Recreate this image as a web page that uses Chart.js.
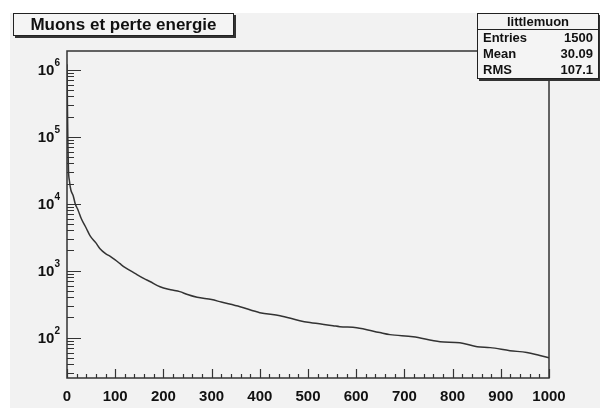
<!DOCTYPE html>
<html>
<head>
<meta charset="utf-8">
<script src="https://cdn.jsdelivr.net/npm/chart.js@4"></script>
<style>
    body { margin: 0; background: #fff; font-family: "Liberation Sans", Arial, sans-serif; }
    #wrap { position: relative; width: 600px; height: 408px; }
    #bg { position: absolute; left: 10px; top: 13px; right: 0; bottom: 0; background: #f2f2f2; }
    canvas { position: absolute; left: 0; top: 0; }
    .title {
        position: absolute; left: 13px; top: 13px; width: 219px; height: 21px;
        border: 1px solid #222; box-shadow: 2px 2px 0 #333; background: #f4f4f4;
        font-weight: bold; font-size: 17px; line-height: 21px; text-align: center; color: #111;
    }
    .stats {
        position: absolute; left: 477px; top: 13px; width: 120px; height: 64px;
        border: 1px solid #222; box-shadow: 2px 2px 0 #333; background: #f4f4f4;
        font-weight: bold; font-size: 13px; color: #111;
    }
    .stats .head { height: 15px; line-height: 16px; text-align: center; border-bottom: 1px solid #222; font-size: 13px; }
    .stats .row { display: flex; justify-content: space-between; padding: 0 5px 0 5px; height: 16px; line-height: 16px; }
</style>
</head>
<body>
<div id="wrap">
    <div id="bg"></div>
    <canvas id="histo" width="600" height="408"></canvas>
    <div class="title">Muons et perte energie</div>
    <div class="stats">
        <div class="head">littlemuon</div>
        <div class="row"><span>Entries</span><span>1500</span></div>
        <div class="row"><span>Mean</span><span>30.09</span></div>
        <div class="row"><span>RMS</span><span>107.1</span></div>
    </div>
</div>
<script>
const binX = [0, 1, 2, 3, 5, 8, 13, 17, 23, 30, 40, 48, 60, 68, 80, 89, 100, 110, 120, 140, 160, 172, 193, 215, 234, 250, 270, 300, 320, 359, 400, 442, 483, 504, 552, 566, 601, 649, 670, 718, 774, 815, 851, 878, 919, 954, 981, 1000];
const counts = [1200000, 250000, 70000, 32000, 22000, 16000, 13000, 10000, 8000, 5900, 4300, 3300, 2600, 2150, 1800, 1650, 1450, 1270, 1120, 920, 760, 690, 575, 520, 487, 440, 400, 370, 340, 290, 236, 213, 179, 168, 151, 146, 141, 119, 111, 103, 87, 84, 73, 71, 64, 60, 54, 50];
const xTicks = [0, 100, 200, 300, 400, 500, 600, 700, 800, 900, 1000];
const decades = [2, 3, 4, 5, 6];

const Y_MIN = 25;
const Y_MAX = 1900000;
const AXIS_COLOR = '#333';

// Plugin pour dessiner le cadre et les graduations vers l'intérieur (style ROOT)
const rootAxes = {
    id: 'rootAxes',
    afterDraw(chart) {
        const ctx = chart.ctx;
        const area = chart.chartArea;
        const xs = chart.scales.x;
        const ys = chart.scales.y;

        ctx.save();
        ctx.strokeStyle = AXIS_COLOR;
        ctx.lineWidth = 1.5;
        ctx.strokeRect(area.left, area.top, area.right - area.left, area.bottom - area.top);

        ctx.lineWidth = 1.2;
        ctx.beginPath();
        // graduations x : majeures tous les 100, mineures tous les 20
        for (let v = 0; v <= 1000; v += 20) {
            const px = Math.round(xs.getPixelForValue(v)) + 0.5;
            const len = v % 100 === 0 ? 9 : 4;
            ctx.moveTo(px, area.bottom);
            ctx.lineTo(px, area.bottom - len);
        }
        // graduations y logarithmiques
        for (let d = 1; d <= 6; d++) {
            for (let m = 1; m <= 9; m++) {
                const val = m * Math.pow(10, d);
                if (val < Y_MIN || val > Y_MAX) continue;
                const py = Math.round(ys.getPixelForValue(val)) + 0.5;
                const len = m === 1 ? 14 : 7;
                ctx.moveTo(area.left, py);
                ctx.lineTo(area.left + len, py);
            }
        }
        ctx.stroke();

        // étiquettes y : 10^n
        ctx.fillStyle = '#111';
        ctx.textBaseline = 'middle';
        decades.forEach(d => {
            const py = ys.getPixelForValue(Math.pow(10, d));
            ctx.font = 'bold 10px "Liberation Sans", Arial, sans-serif';
            ctx.textAlign = 'right';
            const supW = ctx.measureText(String(d)).width;
            ctx.fillText(String(d), area.left - 7, py - 6);
            ctx.font = 'bold 15px "Liberation Sans", Arial, sans-serif';
            ctx.fillText('10', area.left - 7 - supW, py + 1);
        });
        ctx.restore();
    }
};

new Chart(document.getElementById('histo'), {
    type: 'line',
    data: {
        datasets: [{
            data: binX.map((x, i) => ({ x: x, y: counts[i] })),
            borderColor: '#333',
            borderWidth: 1.5,
            pointRadius: 0,
            cubicInterpolationMode: 'monotone',
            fill: false
        }]
    },
    options: {
        responsive: false,
        animation: false,
        layout: { padding: { top: 51, right: 51, left: 0, bottom: 0 } },
        plugins: {
            legend: { display: false },
            tooltip: { enabled: false }
        },
        scales: {
            x: {
                type: 'linear',
                min: 0,
                max: 1000,
                afterFit(scale) { scale.height = 30; },
                afterBuildTicks(scale) { scale.ticks = xTicks.map(v => ({ value: v })); },
                grid: { display: false },
                border: { display: false },
                ticks: {
                    padding: 2,
                    maxRotation: 0,
                    autoSkip: false,
                    color: '#111',
                    callback: value => String(value),
                    font: { family: '"Liberation Sans", Arial, sans-serif', size: 15, weight: 'bold' }
                }
            },
            y: {
                type: 'logarithmic',
                min: Y_MIN,
                max: Y_MAX,
                afterFit(scale) { scale.width = 67; },
                grid: { display: false },
                border: { display: false },
                ticks: { display: false }
            }
        }
    },
    plugins: [rootAxes]
});
</script>
</body>
</html>
